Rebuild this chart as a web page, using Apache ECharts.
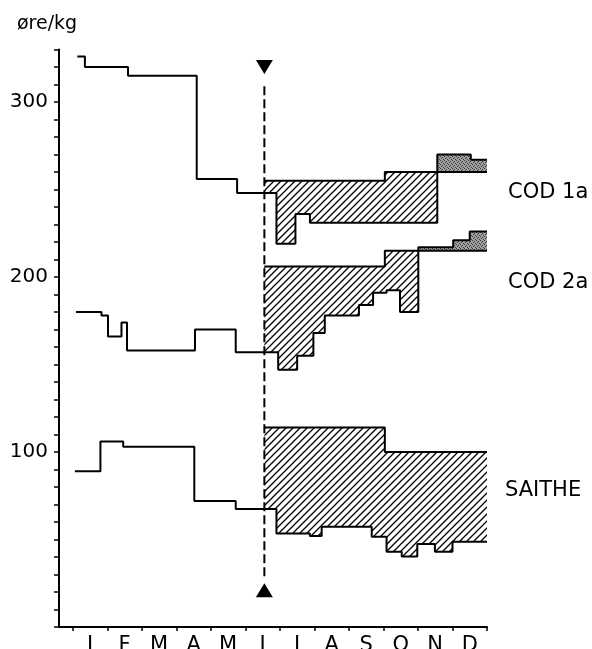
<!DOCTYPE html>
<html><head><meta charset="utf-8">
<script src="https://cdn.jsdelivr.net/npm/echarts@6/dist/echarts.min.js"></script>
<style>html,body{margin:0;padding:0;background:#fff}#c{width:592px;height:649px}</style>
</head><body><div id="c"></div>
<script>
// ---- data (x = months from 1 January, value = øre/kg) ----
const monthLabels = ['J','F','M','A','M','J','J','A','S','O','N','D'];
const monthTicks = [0,1,2,3,4,5,6,7,8,9,10,11,12];
const yLabelValues = [100, 200, 300];
const seriesNames = ['COD 1a', 'COD 2a', 'SAITHE'];

// market price steps (value holds from x[i] to x[i+1])
const cod1aActualX = [0.13, 0.35, 1.60, 3.59, 4.76, 5.90, 6.45, 6.87, 10.56, 11.53, 12];
const cod1aActualV = [326, 320, 315, 256, 248, 219, 236, 231, 270, 267, 267];
const cod1aMinX = [5.55, 9.04, 12];
const cod1aMinV = [255, 260, 260];

const cod2aActualX = [0.09, 0.83, 1.02, 1.41, 1.57, 3.54, 4.72, 5.95, 6.50, 6.97, 7.30, 8.29, 8.70, 9.09, 9.48, 10.01, 11.02, 11.50, 12];
const cod2aActualV = [180, 178, 166, 174, 158, 170, 157, 147, 155, 168, 178, 184, 191, 192.5, 180, 217, 221, 226, 226];
const cod2aMinX = [5.55, 9.04, 12];
const cod2aMinV = [206, 215, 215];

const saitheActualX = [0.06, 0.80, 1.46, 3.52, 4.72, 5.90, 6.87, 7.21, 8.66, 9.09, 9.53, 9.98, 10.49, 11.00, 12];
const saitheActualV = [89, 106, 103, 72, 67.5, 53.5, 52, 57.3, 51.6, 43, 40.3, 47.4, 43, 48.7, 48.7];
const saitheMinX = [5.55, 9.04, 12];
const saitheMinV = [114, 100, 100];

// regions: [upperX, upperV, lowerX, lowerV, from, to, fill]
const regions = [
  [cod1aMinX, cod1aMinV, cod1aActualX, cod1aActualV, 5.55, 10.56, 'hatch'],
  [cod1aActualX, cod1aActualV, cod1aMinX, cod1aMinV, 10.56, 12, 'dots'],
  [cod2aMinX, cod2aMinV, cod2aActualX, cod2aActualV, 5.55, 10.01, 'hatch'],
  [cod2aActualX, cod2aActualV, cod2aMinX, cod2aMinV, 10.01, 12, 'dots'],
  [saitheMinX, saitheMinV, saitheActualX, saitheActualV, 5.55, 12, 'hatch']
];

const startX = 5.55;            // dashed vertical line
const dashedSpan = [27, 309];
const markerTop = 320;
const markerBottom = 21;

// ---- patterns ----
function hatchCanvas() {
  const s = 7, c = document.createElement('canvas');
  c.width = s; c.height = s;
  const g = c.getContext('2d');
  g.strokeStyle = '#000'; g.lineWidth = 1.3;
  g.beginPath();
  g.moveTo(0, s); g.lineTo(s, 0);
  g.moveTo(-1, 1); g.lineTo(1, -1);
  g.moveTo(s - 1, s + 1); g.lineTo(s + 1, s - 1);
  g.stroke();
  return c;
}
function dotCanvas() {
  const c = document.createElement('canvas');
  c.width = 4; c.height = 4;
  const g = c.getContext('2d');
  g.fillStyle = '#a0a0a0'; g.fillRect(0, 0, 4, 4);
  g.fillStyle = '#383838';
  [[0,0],[2,1],[1,2],[3,3]].forEach(p => g.fillRect(p[0], p[1], 1, 1));
  return c;
}
const fills = {
  hatch: { image: hatchCanvas(), repeat: 'repeat' },
  dots: { image: dotCanvas(), repeat: 'repeat' }
};

function stepAt(xs, vs, x, before) {
  let idx = 0;
  for (let i = 0; i < xs.length; i++) {
    if (before ? xs[i] < x : xs[i] <= x) idx = i;
  }
  return vs[idx];
}
function stepPath(xs, vs, a, b) {
  const pts = [[a, stepAt(xs, vs, a, false)]];
  for (let i = 0; i < xs.length; i++) {
    if (xs[i] > a && xs[i] < b) {
      pts.push([xs[i], vs[i - 1]], [xs[i], vs[i]]);
    }
  }
  pts.push([b, stepAt(xs, vs, b, true)]);
  return pts;
}

const regionSeries = regions.map(r => {
  const up = stepPath(r[0], r[1], r[4], r[5]);
  const lo = stepPath(r[2], r[3], r[4], r[5]).reverse();
  const poly = up.concat(lo);
  return {
    type: 'custom', coordinateSystem: 'cartesian2d', silent: true, z: 1,
    data: [[r[4], r[1][0]]],
    renderItem: (params, api) => ({
      type: 'polygon',
      shape: { points: poly.map(p => api.coord(p)) },
      style: { fill: fills[r[6]], stroke: null }
    })
  };
});

function stepLine(xs, vs) {
  return {
    type: 'line', step: 'end', showSymbol: false, silent: true, z: 3,
    data: xs.map((x, i) => [x, vs[i]]),
    lineStyle: { color: '#000', width: 2 }
  };
}

const lineFont = 'DejaVu Sans';
const chart = echarts.init(document.getElementById('c'));
chart.setOption({
  animation: false,
  backgroundColor: '#fff',
  grid: { left: 59, right: 105, top: 49.5, bottom: 22, containLabel: false, outerBoundsMode: 'none' },
  xAxis: {
    type: 'value', min: -0.4, max: 12,
    axisLine: { show: true, onZero: false, lineStyle: { color: '#000', width: 2 } },
    axisTick: { show: true, inside: false, length: 4, customValues: monthTicks, lineStyle: { color: '#000', width: 1.5 } },
    axisLabel: {
      customValues: monthTicks.slice(0, 12).map(m => m + 0.5),
      formatter: v => monthLabels[Math.floor(v)] || '',
      margin: 8, color: '#000', fontFamily: lineFont, fontSize: 21
    },
    splitLine: { show: false }
  },
  yAxis: {
    type: 'value', min: 0, max: 330, interval: 10,
    axisLine: { show: true, onZero: false, lineStyle: { color: '#000', width: 2 } },
    axisTick: { show: true, inside: false, length: 5, lineStyle: { color: '#000', width: 1.5 } },
    axisLabel: {
      formatter: v => yLabelValues.indexOf(v) >= 0 ? String(v) : '',
      margin: 11, color: '#000', fontFamily: lineFont, fontSize: 20
    },
    splitLine: { show: false }
  },
  graphic: [
    { type: 'text', x: 17, y: 24, style: { text: 'øre/kg', fontFamily: lineFont, fontSize: 19, fill: '#000', verticalAlign: 'middle' } },
    { type: 'text', x: 508, y: 193, style: { text: seriesNames[0], fontFamily: lineFont, fontSize: 21, fill: '#000', verticalAlign: 'middle' } },
    { type: 'text', x: 508, y: 283, style: { text: seriesNames[1], fontFamily: lineFont, fontSize: 21, fill: '#000', verticalAlign: 'middle' } },
    { type: 'text', x: 505, y: 491, style: { text: seriesNames[2], fontFamily: lineFont, fontSize: 21, fill: '#000', verticalAlign: 'middle' } }
  ],
  series: regionSeries.concat([
    stepLine(cod1aActualX, cod1aActualV),
    stepLine(cod1aMinX, cod1aMinV),
    stepLine(cod2aActualX, cod2aActualV),
    stepLine(cod2aMinX, cod2aMinV),
    stepLine(saitheActualX, saitheActualV),
    stepLine(saitheMinX, saitheMinV),
    {
      type: 'line', showSymbol: false, silent: true, z: 4,
      data: [[startX, dashedSpan[1]], [startX, dashedSpan[0]]],
      lineStyle: { color: '#000', width: 2, type: [9, 4] }
    },
    {
      type: 'scatter', silent: true, z: 5, symbol: 'triangle', symbolRotate: 180, symbolSize: [17, 14],
      itemStyle: { color: '#000', opacity: 1 }, data: [[startX, markerTop]]
    },
    {
      type: 'scatter', silent: true, z: 5, symbol: 'triangle', symbolSize: [17, 14],
      itemStyle: { color: '#000', opacity: 1 }, data: [[startX, markerBottom]]
    }
  ])
});
</script>
</body></html>
